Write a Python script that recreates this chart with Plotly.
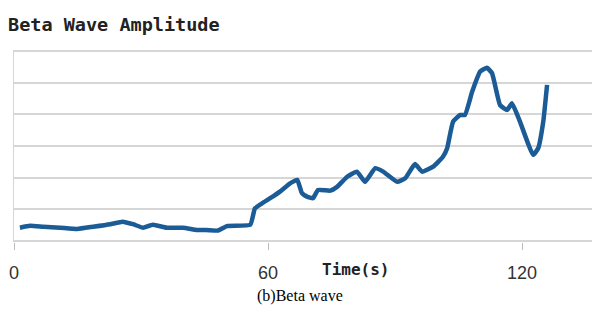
import plotly.graph_objects as go

# Time (s)
time_s = [1.4, 3.8, 6.9, 10.9, 14.9, 18.7, 22.7, 25.7, 28.1, 30.5, 32.8, 36.1, 39.9, 43.2, 44.6,
          48.2, 50.3, 55.8, 56.9, 58.6, 60.5, 62.8, 65.2, 66.9, 68.0, 69.2, 70.6, 71.8, 74.7,
          76.3, 78.7, 81.0, 82.9, 85.3, 87.2, 90.5, 92.4, 94.7, 96.4, 99.0, 101.3, 102.3, 103.7,
          105.4, 106.5, 108.2, 110.1, 111.7, 112.9, 114.8, 116.5, 117.6, 119.5, 122.6, 123.8,
          125.0, 125.9]
# Beta wave amplitude (grid units)
amplitude = [0.42, 0.48, 0.45, 0.42, 0.38, 0.45, 0.53, 0.61, 0.53, 0.42, 0.51, 0.42, 0.42, 0.35,
             0.35, 0.33, 0.47, 0.51, 1.03, 1.19, 1.35, 1.56, 1.82, 1.93, 1.51, 1.40, 1.35, 1.61,
             1.59, 1.71, 2.03, 2.19, 1.87, 2.30, 2.19, 1.87, 1.98, 2.43, 2.19, 2.35, 2.66, 2.93,
             3.77, 3.98, 3.98, 4.71, 5.35, 5.47, 5.30, 4.29, 4.14, 4.35, 3.77, 2.72, 2.93, 3.77,
             4.93]
x_ticks = [0, 60, 120]
x_tick_labels = ["0", "60", "120"]

W, H = 592, 310  # page body has an 8px margin

fig = go.Figure()
fig.add_trace(go.Scatter(
    x=time_s, y=amplitude, mode="lines",
    line=dict(color="#1b5b96", width=4.5, shape="spline", smoothing=0.4),
    showlegend=False, hoverinfo="skip",
))

fig.update_layout(
    width=W, height=H,
    margin=dict(l=6, r=0, t=42, b=76, autoexpand=False),
    paper_bgcolor="white", plot_bgcolor="white",
    title=dict(text="<b>Beta Wave Amplitude</b>", x=0, xanchor="left",
               y=1 - 16.5/H, yanchor="middle",
               font=dict(family="DejaVu Sans Mono", size=18.5, color="#222222")),
    xaxis=dict(range=[0, 138.4], tickvals=x_ticks, ticktext=x_tick_labels,
               showgrid=False, zeroline=False, showline=False, automargin=False,
               ticks="outside", ticklen=7, tickcolor="#bbbbbb", tickwidth=1,
               ticklabelstandoff=7,
               tickfont=dict(family="Liberation Sans Narrow, Liberation Sans", size=18, color="#333333")),
    yaxis=dict(range=[-0.032, 6.032], dtick=1, tick0=0, showticklabels=False, automargin=False,
               showgrid=True, gridcolor="#d6d6d6", gridwidth=2, zeroline=False,
               showline=True, linecolor="#d6d6d6", linewidth=1, ticks=""),
    annotations=[
        dict(text="<b>Time(s)</b>", xref="paper", yref="paper",
             x=(355 - 14) / 586, y=(242 - 269) / 192, showarrow=False,
             xanchor="center", yanchor="middle",
             font=dict(family="DejaVu Sans Mono", size=16, color="#222222")),
        dict(text="(b)Beta wave", xref="paper", yref="paper",
             x=(300 - 14) / 586, y=(242 - 296) / 192, showarrow=False,
             xanchor="center", yanchor="middle",
             font=dict(family="Liberation Serif", size=16, color="#000000")),
    ],
)

fig.write_html("out.html")
